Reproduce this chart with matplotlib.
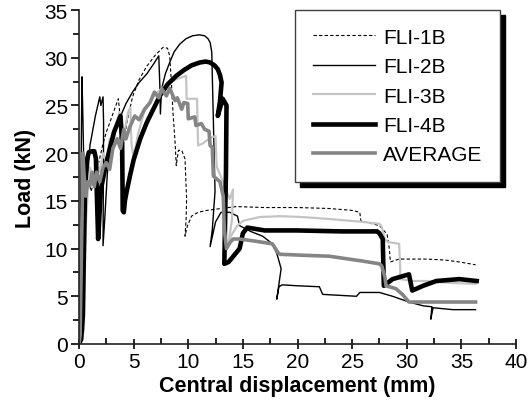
import matplotlib
matplotlib.use("Agg")
import numpy as np
from matplotlib import pyplot as plt
from matplotlib.ticker import MultipleLocator

plt.rcParams['font.family'] = ['Liberation Sans', 'DejaVu Sans']

# (displacement mm, load kN)
fli1b = [(0, 0), (0.1, 2), (0.2, 8), (0.3, 14), (0.45, 17), (0.6, 19), (0.8, 17.5), (1.1, 16),
         (1.5, 17.5), (1.9, 19.5), (2.2, 21), (2.5, 22.2), (3.0, 23.8), (3.6, 25.7), (3.75, 24),
         (3.8, 19), (4.0, 20.5), (4.4, 23.3), (4.9, 25.9), (5.5, 27.7), (6.2, 29.1), (7.0, 30.3),
         (7.7, 31.1), (8.1, 31.0), (8.3, 30.2), (8.45, 27.5), (8.6, 24.3), (8.8, 21), (8.9, 18.7),
         (9.1, 20.3), (9.4, 20.3), (9.7, 19.4), (9.85, 15.2), (9.8, 13), (9.7, 11.3), (9.9, 12.3),
         (10.3, 13.4), (10.9, 13.8), (11.7, 14.0), (13.0, 14.2), (14.4, 14.4), (17.0, 14.3),
         (20.0, 14.3), (22.9, 14.2), (25.0, 14.0), (25.7, 13.8), (25.8, 12.9), (26.5, 12.7),
         (27.5, 12.4), (28.2, 11.5), (28.4, 10), (28.5, 8.6), (29.3, 8.9), (31.8, 8.9),
         (33.5, 8.8), (34.8, 8.6), (36.3, 8.3)]

fli2b = [(0, 0), (0.1, 8), (0.2, 20), (0.27, 28), (0.35, 24), (0.45, 18), (0.55, 14), (0.7, 16),
         (1.0, 20.8), (1.5, 23.9), (1.9, 25.9), (2.0, 25.0), (2.2, 25.9), (2.25, 23), (2.2, 10.3),
         (2.35, 13), (2.6, 18), (2.8, 20.4), (3.2, 22.3), (3.7, 23.6), (4.3, 25.2), (4.9, 26.4),
         (5.5, 27.4), (6.2, 28.3), (6.8, 29.3), (7.3, 30.2), (7.4, 27), (7.45, 24.1), (7.55, 26.7),
         (7.9, 28.3), (8.3, 29.5), (8.7, 30.6), (9.2, 31.4), (9.8, 32.0), (10.4, 32.3),
         (11.0, 32.4), (11.5, 32.3), (11.8, 32.0), (12.0, 31.6), (12.15, 30.6),
         (12.45, 16), (12.2, 12), (12.0, 10.2), (12.5, 12.8), (13.0, 13.8), (13.8, 13.8),
         (14.5, 13.4), (14.7, 12.4), (15.7, 11.8), (16.8, 11.3), (17.7, 10.5), (18.1, 9.5),
         (18.5, 7.9), (18.3, 6.3), (18.1, 4.7), (18.3, 6.0), (18.6, 6.2), (20.0, 6.1), (22.0, 6.0),
         (22.3, 5.2), (25.4, 5.0), (25.7, 5.4), (27.5, 5.4), (28.7, 5.0), (30.2, 4.4), (31.5, 4.0),
         (32.3, 3.9), (32.2, 2.6), (32.4, 3.8), (34.2, 3.6), (36.3, 3.6)]

fli3b = [(0, 0), (0.25, 0.5), (0.45, 1.5), (0.55, 8), (0.65, 13), (0.8, 16), (1.0, 18.5),
         (1.3, 17), (1.6, 19.5), (1.9, 18), (2.2, 20), (2.5, 19), (2.8, 21.5), (3.1, 20.5),
         (3.4, 23), (3.7, 24.3), (4.0, 22), (4.2, 22.5), (4.5, 24.3), (4.7, 24.8), (4.8, 21),
         (5.0, 19.5), (5.4, 22), (6.0, 24.5), (7.0, 26.2), (8.0, 27.2), (9.0, 27.8), (9.8, 28.1),
         (9.85, 25.7), (10.8, 25.7), (10.9, 20.8), (11.3, 21), (12.0, 21.6), (12.5, 21.8),
         (12.6, 18.6), (13.0, 17.5), (13.5, 16), (13.8, 15.2), (14.1, 16.2), (14.0, 13),
         (13.7, 10.8), (14.0, 11.5), (14.5, 12.4), (15.0, 12.9), (16.5, 13.3), (18.4, 13.4),
         (20.5, 13.3), (22.9, 13.1), (25.9, 12.8), (27.5, 12.6), (27.7, 12.3), (28.0, 11.0),
         (28.2, 10.7), (29.3, 10.5), (29.4, 8), (29.4, 6.8), (30.5, 6.6), (31.8, 6.6),
         (34.0, 6.4), (36.3, 6.3)]

fli4b = [(0, 0), (0.2, 0.5), (0.35, 3), (0.45, 10), (0.55, 16), (0.7, 19.2), (0.9, 20.1),
         (1.2, 20.2), (1.4, 20.2), (1.55, 19.4), (1.65, 15), (1.75, 11), (1.85, 13), (2.0, 16.2),
         (2.5, 19), (3.2, 22.2), (3.8, 23.9), (3.95, 21), (4.0, 14), (4.1, 13.8), (4.2, 15.0),
         (4.4, 16.2), (4.7, 17.8), (5.0, 19.3), (5.6, 21.5), (6.2, 23.2), (6.8, 24.6),
         (7.4, 26.0), (8.1, 27.2), (8.9, 28.1), (9.6, 28.7), (10.3, 29.2), (11.05, 29.5),
         (11.6, 29.6), (12.0, 29.5), (12.4, 29.2), (12.7, 28.8), (12.9, 28.2), (13.05, 27.4),
         (12.9, 25.4), (12.7, 23.9), (13.15, 25.7), (13.5, 25.0), (13.45, 18), (13.3, 8.4),
         (13.7, 8.6), (14.2, 9.3), (14.7, 10.0), (15.0, 11.6), (15.4, 12.2), (17.0, 11.9),
         (20.0, 11.9), (24.0, 11.8), (27.3, 11.8), (27.5, 11.6), (27.8, 11.0), (27.9, 6.1),
         (28.7, 6.8), (30.2, 7.3), (30.5, 5.6), (31.5, 6.1), (32.7, 6.6), (34.8, 6.8), (36.4, 6.6)]

average = [(0, 0), (0.1, 1), (0.2, 8), (0.3, 15), (0.35, 20), (0.45, 18), (0.6, 15.5),
           (0.8, 17), (1.0, 16.6), (1.2, 18), (1.4, 16.5), (1.6, 18), (1.9, 17), (2.2, 18.5),
           (2.5, 19), (2.8, 18.3), (3.1, 20.5), (3.5, 21.5), (3.8, 20.5), (4.1, 22.5), (4.3, 21.5),
           (4.6, 22.6), (5.1, 23.9), (5.5, 23.5), (6.0, 24.6), (6.5, 25.3), (6.9, 26.4),
           (7.3, 25.8), (7.6, 26.7), (8.0, 26.0), (8.3, 26.8), (8.6, 26.0), (8.8, 25.5),
           (9.0, 25.8), (9.2, 25.2), (9.4, 24.6), (9.6, 25.3), (9.95, 25.2), (10.0, 23.6),
           (10.6, 23.8), (10.7, 22.9), (11.2, 23.1), (11.5, 22.5), (11.9, 22.3), (12.0, 20.8),
           (12.2, 20.6), (12.3, 17.6), (12.9, 17.0), (13.1, 16.0), (13.2, 15.5), (13.3, 12),
           (13.5, 10.0), (13.8, 10.6), (14.1, 11.0), (14.7, 11.0), (16.0, 10.8), (17.7, 10.5),
           (18.2, 9.6), (18.4, 9.4), (20.5, 9.3), (22.9, 9.2), (25.9, 8.7), (27.5, 8.4),
           (27.7, 8.2), (28.0, 7.0), (28.1, 6.1), (29.0, 5.8), (29.6, 5.2), (30.2, 4.4),
           (33.0, 4.4), (36.3, 4.4)]

series = [fli1b, fli2b, fli3b, fli4b, average]
labels = ["FLI-1B", "FLI-2B", "FLI-3B", "FLI-4B", "AVERAGE"]
styles = [
    dict(color="black", lw=0.8, ls=(0, (3, 2))),
    dict(color="black", lw=1.0),
    dict(color="#c4c4c4", lw=1.6),
    dict(color="black", lw=3.3),
    dict(color="#858585", lw=2.6),
]

fig = plt.figure(figsize=(5.31, 4.02), dpi=100)
ax = fig.add_axes([0.1488, 0.1418, 0.823, 0.8308])

for data, lab, st in zip(series, labels, styles):
    d = np.array(data)
    ax.plot(d[:, 0], d[:, 1], label=lab, solid_joinstyle="round", **st)

ax.set_xlim(0, 40)
ax.set_ylim(0, 35)
ax.spines[["top", "right"]].set_visible(False)
for s in ["left", "bottom"]:
    ax.spines[s].set_linewidth(1.2)
    ax.spines[s].set_color("#222222")
ax.xaxis.set_major_locator(MultipleLocator(5))
ax.xaxis.set_minor_locator(MultipleLocator(2.5))
ax.yaxis.set_major_locator(MultipleLocator(5))
ax.yaxis.set_minor_locator(MultipleLocator(2.5))
ax.tick_params(axis="x", which="major", direction="inout", length=7, width=1.2, labelsize=15, pad=2)
ax.tick_params(axis="x", which="minor", direction="in", length=4, width=1.2)
ax.tick_params(axis="y", which="major", direction="out", length=6, width=1.2, labelsize=15, pad=2)
ax.tick_params(axis="y", which="minor", direction="out", length=4, width=1.2)

ax.set_xlabel("Central displacement (mm)", fontsize=15.5, fontweight="bold", labelpad=3)
ax.set_ylabel("Load (kN)", fontsize=15.5, fontweight="bold", labelpad=6)

leg = ax.legend(loc="upper right", bbox_to_anchor=(0.963, 1.0), borderaxespad=0,
                fancybox=False, framealpha=1, edgecolor="#404040", fontsize=15,
                handlelength=3.0, handletextpad=0.35, labelspacing=0.5, borderpad=0.85,
                shadow={"ox": 3.6, "oy": -3.6, "facecolor": "black", "edgecolor": "black", "alpha": 1})
leg.get_frame().set_linewidth(1.0)

fig.savefig("out.png", dpi=100)
